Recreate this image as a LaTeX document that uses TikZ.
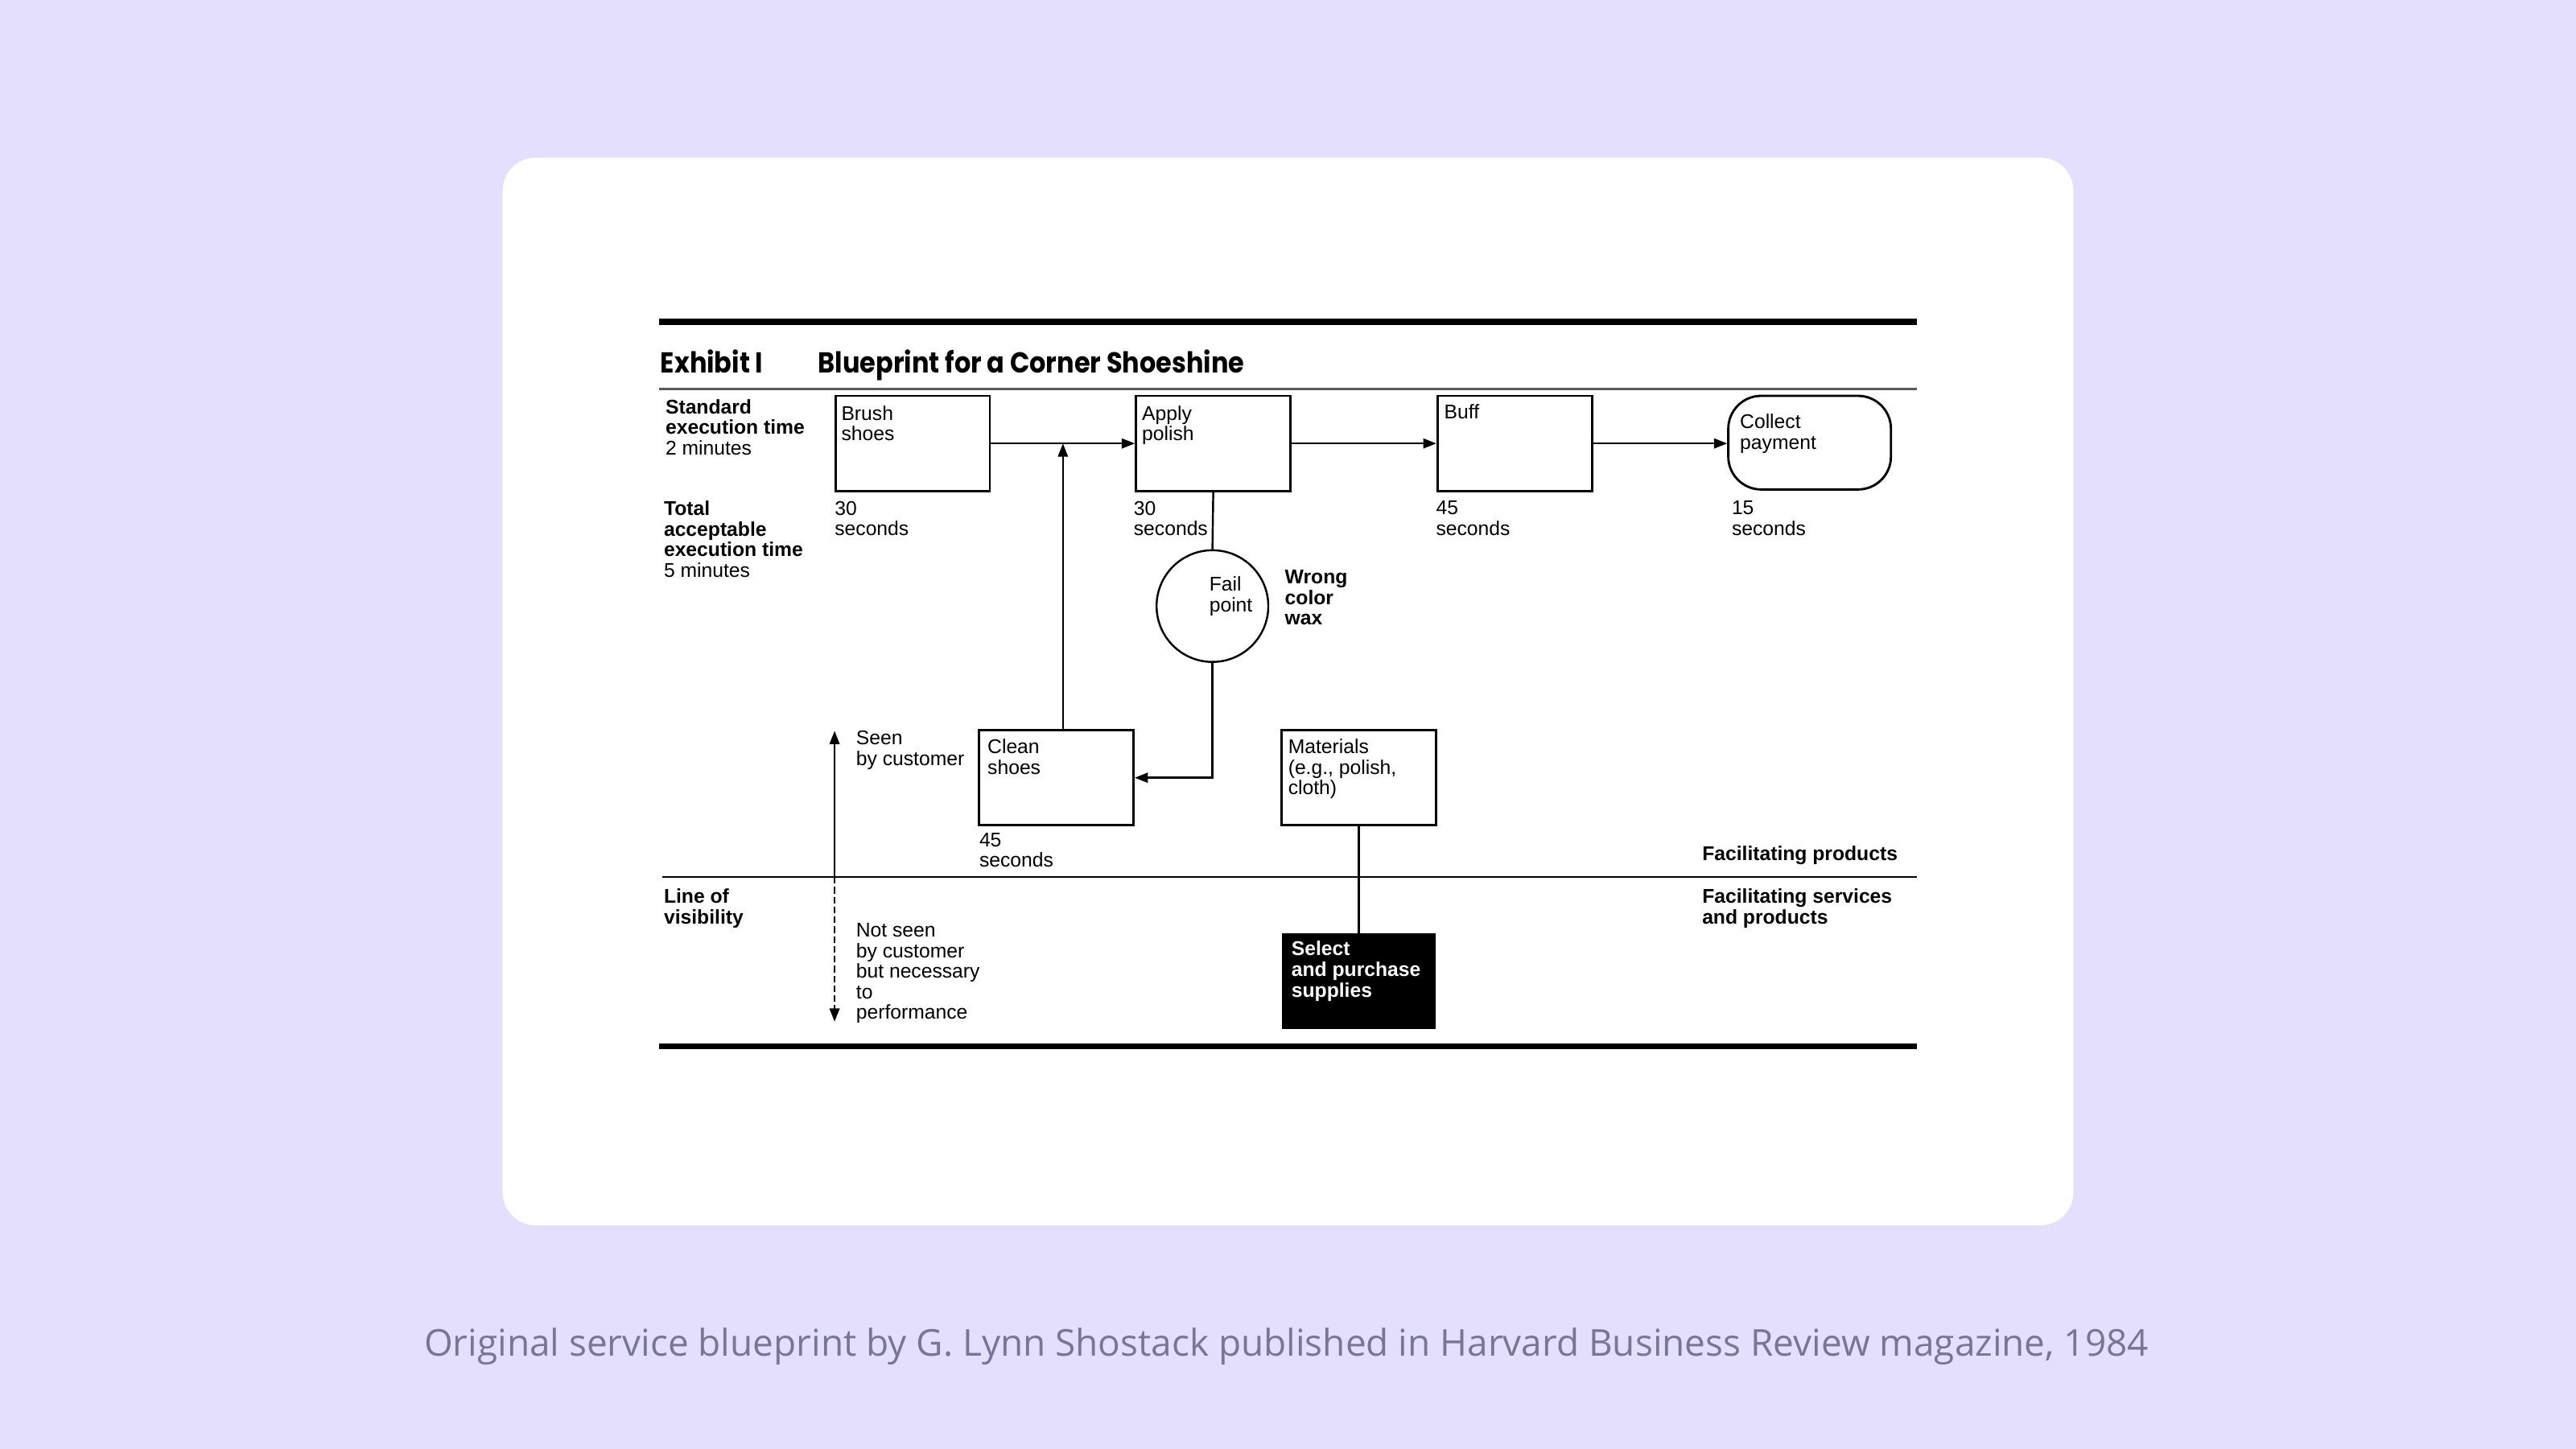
\documentclass[tikz,border=0pt]{standalone}
\usepackage{fontspec}
\setmainfont{Liberation Sans}
\newfontfamily\titlefont[FakeStretch=0.89]{Poppins}
\newfontfamily\captionfont{Open Sans}
\usetikzlibrary{arrows.meta,positioning,calc}
\definecolor{lavender}{RGB}{227,223,253}
\definecolor{captiongray}{RGB}{120,117,150}
\definecolor{rulegray}{RGB}{90,90,90}

\begin{document}
\begin{tikzpicture}[
    x=0.5mm, y=-0.5mm,
    stepbox/.style={rectangle, draw, line width=0.7mm, fill=white, minimum width=47mm, minimum height=29mm, inner sep=0pt},
    txt/.style={anchor=north west, inner sep=0pt, align=left, font=\fontsize{17.2}{17.8}\selectfont},
    boldtxt/.style={txt, font=\fontsize{17.2}{17.8}\selectfont\bfseries},
    flow/.style={line width=0.6mm, -{Triangle[length=4mm,width=3mm]}},
    link/.style={line width=0.6mm}
]

% Background and card
\fill[lavender] (0,0) rectangle (1568,882);
\fill[white, rounded corners=10mm] (306,96) rectangle (1262,746);

% Rules
\draw[line width=1.8mm] (401,196) -- (1167,196);
\draw[line width=0.7mm, rulegray] (401,237) -- (1167,237);
\draw[line width=0.6mm] (403,534) -- (1167,534);
\draw[line width=1.8mm] (401,637) -- (1167,637);

% Title
\node[anchor=base west, inner sep=0pt, font=\titlefont\fontsize{25}{28}\selectfont\bfseries] (exhibit) at (402,227) {Exhibit I};
\node[anchor=base west, inner sep=0pt, font=\titlefont\fontsize{25}{28}\selectfont\bfseries] (title) at (498,227) {Blueprint for a Corner Shoeshine};

% Left column labels
\node[boldtxt] (stdtime) at (405,243) {Standard\\execution time\\\mdseries 2 minutes};
\node[boldtxt] (totaltime) at (404,305) {Total\\acceptable\\execution time\\\mdseries 5 minutes};
\node[boldtxt] (visibility) at (404,541) {Line of\\visibility};

% Steps seen by customer
\node[stepbox] (brush) at (555.5,270) {};
\node[stepbox] (polish) at (738.5,270) {};
\node[stepbox] (buff) at (922,270) {};
\node[stepbox, rounded corners=10mm, minimum width=49.5mm, minimum height=28.5mm] (collect) at (1101.5,269.5) {};
\node[stepbox] (clean) at (643,473.5) {};
\node[stepbox] (materials) at (827,473.5) {};
\node[draw, circle, line width=0.6mm, minimum size=34mm, inner sep=0pt] (fail) at (738,369) {};

% Step below the line of visibility
\node[stepbox, fill=black, minimum width=46mm, minimum height=28.5mm] (select) at (827,597.5) {};

% Box texts
\node[txt] (brushtxt) at (512,247) {Brush\\shoes};
\node[txt] (polishtxt) at (695,247) {Apply\\polish};
\node[txt] (bufftxt) at (879,246) {Buff};
\node[txt] (collecttxt) at (1059,252) {Collect\\payment};
\node[txt] (cleantxt) at (601,450) {Clean\\shoes};
\node[txt] (materialstxt) at (784,450) {Materials\\(e.g., polish,\\cloth)};
\node[txt] (failtxt) at (736,351) {Fail\\point};
\node[boldtxt, text=white] (selecttxt) at (786,573) {Select\\and purchase\\supplies};

% Execution times
\node[txt] (brushsec) at (508,305) {30\\seconds};
\node[txt] (polishsec) at (690,305) {30\\seconds};
\node[txt] (buffsec) at (874,305) {45\\seconds};
\node[txt] (collectsec) at (1054,305) {15\\seconds};
\node[txt] (cleansec) at (596,507) {45\\seconds};

% Side notes
\node[boldtxt] (wax) at (782,347) {Wrong\\color\\wax};
\node[boldtxt] (products) at (1036,515) {Facilitating products};
\node[boldtxt] (services) at (1036,541) {Facilitating services\\and products};
\node[txt] (seentxt) at (521,445) {Seen\\by customer};
\node[txt] (unseentxt) at (521,562) {Not seen\\by customer\\but necessary\\to\\performance};

% Flow
\draw[flow] (brush) -- (polish);
\draw[flow] (polish) -- (buff);
\draw[flow] (buff.east) -- (buff.east -| collect.west);
\draw[flow] ([xshift=2mm]clean.north) -- ([xshift=2mm]clean.north |- brush.east);
\draw[link] (polish.south) -- (fail.north);
\draw[flow] (fail.south) |- (clean.east);
\draw[link] (materials.south) -- (select.north);

% Seen / not seen arrows
\coordinate (vis) at (508,534);
\coordinate (seen) at (508,445);
\coordinate (unseen) at (508,622);
\draw[flow] (vis) -- (seen);
\draw[flow, dash pattern=on 2mm off 1mm] (vis) -- (unseen);

% Caption
\node[font=\captionfont\fontsize{32}{34}\selectfont, text=captiongray] (caption) at (783,820) {Original service blueprint by G. Lynn Shostack published in Harvard Business Review magazine, 1984};

\end{tikzpicture}
\end{document}
